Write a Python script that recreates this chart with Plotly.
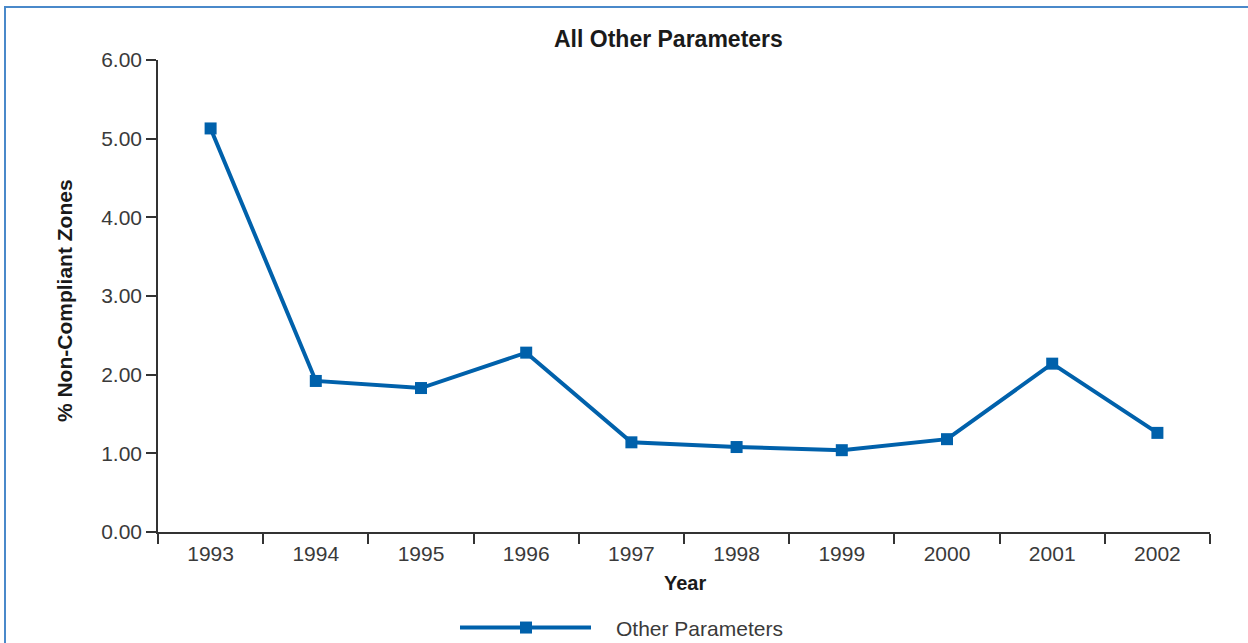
import plotly.graph_objects as go

years = ["1993", "1994", "1995", "1996", "1997", "1998", "1999", "2000", "2001", "2002"]
values = [5.13, 1.92, 1.83, 2.28, 1.14, 1.08, 1.04, 1.18, 2.14, 1.26]
series_name = "Other Parameters"
y_ticks = [0, 1, 2, 3, 4, 5, 6]

BLUE = "#0061AB"
TXT = "#3a3a3a"
DARK = "#1a1a1a"
FONT = "Liberation Sans, Arial, Helvetica, sans-serif"

# plot area geometry (pixels)
L, R, T, B = 158, 1210, 59.5, 532.3
W, H = 1248, 643


def px(x):
    return (x - L) / (R - L)


def py(y):
    return (B - y) / (B - T)


fig = go.Figure()
fig.add_trace(go.Scatter(
    x=years, y=values, mode="lines+markers", name=series_name,
    line=dict(color=BLUE, width=4),
    marker=dict(symbol="square", size=12, color=BLUE),
    showlegend=False,
))

shapes = [
    # frame (left + top edges)
    dict(type="line", xref="paper", yref="paper", x0=px(5), x1=px(5), y0=py(700), y1=py(6.5),
         line=dict(color="#4A89CA", width=2)),
    dict(type="line", xref="paper", yref="paper", x0=px(4), x1=px(1300), y0=py(6.5), y1=py(6.5),
         line=dict(color="#4A89CA", width=2)),
    # legend line
    dict(type="line", xref="paper", yref="paper", x0=px(460), x1=px(591), y0=py(628), y1=py(628),
         line=dict(color=BLUE, width=4)),
    # legend marker
    dict(type="rect", xref="paper", yref="paper", xsizemode="pixel", ysizemode="pixel",
         xanchor=px(526), yanchor=py(628), x0=-6, x1=6, y0=-6, y1=6,
         fillcolor=BLUE, line=dict(width=0)),
]

annotations = [
    dict(text="<b>All Other Parameters</b>", xref="paper", yref="paper", x=px(668), y=py(38),
         showarrow=False, font=dict(size=23, color=DARK, family=FONT), xanchor="center", yanchor="middle"),
    dict(text="<b>% Non-Compliant Zones</b>", xref="paper", yref="paper", x=px(64), y=py(301),
         showarrow=False, textangle=-90, font=dict(size=21, color=DARK, family=FONT),
         xanchor="center", yanchor="middle"),
    dict(text="<b>Year</b>", xref="paper", yref="paper", x=px(685), y=py(583),
         showarrow=False, font=dict(size=20, color=DARK, family=FONT), xanchor="center", yanchor="middle"),
    dict(text=series_name, xref="paper", yref="paper", x=px(614), y=py(629),
         showarrow=False, font=dict(size=21, color=TXT, family=FONT), xanchor="left", yanchor="middle"),
]

fig.update_layout(
    width=W, height=H,
    margin=dict(l=L, r=W - R, t=T, b=H - B),
    paper_bgcolor="white", plot_bgcolor="white",
    font=dict(family=FONT, size=21, color=TXT),
    shapes=shapes, annotations=annotations,
    xaxis=dict(type="category", range=[-0.5, 9.5], tickson="boundaries", ticks="outside", ticklen=10,
               tickcolor="#333333", tickwidth=1.5, showline=True, linecolor="#333333", linewidth=1.5,
               showgrid=False, zeroline=False, tickfont=dict(size=21, color=TXT), ticklabelstandoff=2),
    yaxis=dict(range=[0, 6], tickvals=y_ticks, tickformat=".2f", ticks="outside", ticklen=10,
               tickcolor="#333333", tickwidth=1.5, showline=True, linecolor="#333333", linewidth=1.5,
               showgrid=False, zeroline=False, tickfont=dict(size=21, color=TXT)),
    showlegend=False,
)

fig.write_html("out.html", config={"displayModeBar": False})
